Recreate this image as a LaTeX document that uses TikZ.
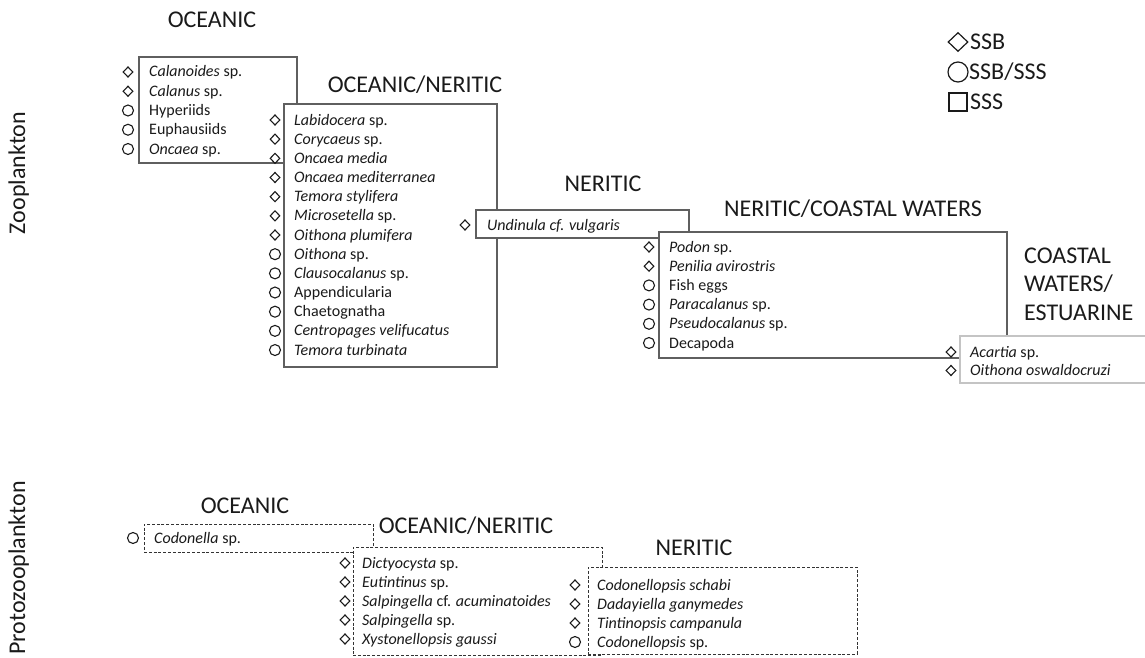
\documentclass[tikz,border=0pt]{standalone}
\usepackage{fontspec}
\setmainfont{Carlito}
\usetikzlibrary{shapes.geometric}
\definecolor{boxgray}{HTML}{5F5F5F}
\definecolor{lightbox}{HTML}{C4C4C4}
\definecolor{dashgray}{HTML}{333333}
\definecolor{txt}{HTML}{1A1A1A}
\begin{document}
\begin{tikzpicture}[x=1pt,y=-1pt,
  box/.style={draw=boxgray, line width=1.2pt, fill=white, anchor=north west, inner sep=0pt, outer sep=0pt},
  lbox/.style={box, draw=lightbox},
  dbox/.style={box, draw=dashgray, line width=1pt, dash pattern=on 3pt off 1.8pt},
  symd/.style={draw=txt, line width=1.1pt, diamond, minimum width=10pt, minimum height=10.5pt, inner sep=0pt},
  symc/.style={draw=txt, line width=1.1pt, circle, minimum size=11pt, inner sep=0pt},
  item/.style={anchor=base west, inner sep=0pt, font=\fontsize{16}{19}\selectfont, text=txt},
  ttl/.style={anchor=base, inner sep=0pt, font=\fontsize{24}{28}\selectfont, text=txt},
  side/.style={anchor=base, inner sep=0pt, rotate=90, font=\fontsize{24}{28}\selectfont, text=txt},
]
\useasboundingbox (0,0) rectangle (1145,658);

% ---------- boxes (zooplankton) ----------
\node[box, minimum width=158pt, minimum height=106pt] (b1) at (139,57) {};
\node[box, minimum width=213pt, minimum height=263pt] (b2) at (284,104) {};
\node[box, minimum width=213pt, minimum height=28pt] (b3) at (476,210) {};
\node[box, minimum width=348pt, minimum height=126pt] (b4) at (659,232) {};
\node[lbox, minimum width=200pt, minimum height=47pt] (b5) at (960,336) {};

% ---------- boxes (protozooplankton) ----------
\node[dbox, minimum width=229pt, minimum height=28pt] (p1) at (144,524) {};
\node[dbox, minimum width=249pt, minimum height=108pt] (p2) at (353,547) {};
\node[dbox, minimum width=269pt, minimum height=87pt] (p3) at (588,567) {};

% ---------- side labels ----------
\node[side] (zoo) at (25,173) {Zooplankton};
\node[side] (proto) at (25,568) {Protozooplankton};

% ---------- titles ----------
\node[ttl] (t1) at (212,27.7) {OCEANIC};
\node[ttl] (t2) at (415,92.7) {OCEANIC/NERITIC};
\node[ttl] (t3) at (603,191.2) {NERITIC};
\node[ttl] (t4) at (853,216.2) {NERITIC/COASTAL WATERS};
\node[anchor=north west, inner sep=0pt, align=left, font=\fontsize{24}{28.5}\selectfont, text=txt] (t5) at (1024,247.5) {COASTAL\\WATERS/\\ESTUARINE};
\node[ttl] (pt1) at (245,513.7) {OCEANIC};
\node[ttl] (pt2) at (466,533.7) {OCEANIC/NERITIC};
\node[ttl] (pt3) at (694,555.7) {NERITIC};

% ---------- legend ----------
\node[draw=txt, line width=1.2pt, diamond, minimum width=20pt, minimum height=19pt, inner sep=0pt] (lg1) at (958,42) {};
\node[draw=txt, line width=1.2pt, circle, minimum size=20pt, inner sep=0pt] (lg2) at (958,72) {};
\node[draw=txt, line width=1.2pt, rectangle, minimum size=18pt, inner sep=0pt] (lg3) at (958,102) {};
\node[anchor=base west, inner sep=0pt, font=\fontsize{24}{28}\selectfont, text=txt] (lgt1) at (970,49.7) {SSB};
\node[anchor=base west, inner sep=0pt, font=\fontsize{24}{28}\selectfont, text=txt] (lgt2) at (969,79.7) {SSB/SSS};
\node[anchor=base west, inner sep=0pt, font=\fontsize{24}{28}\selectfont, text=txt] (lgt3) at (970,109.7) {SSS};

% ---------- items ----------
\foreach \s/\t [count=\i] in {d/{\textit{Calanoides} sp.}, d/{\textit{Calanus} sp.}, c/{Hyperiids}, c/{Euphausiids}, c/{\textit{Oncaea} sp.}}{
  \node[sym\s] (b1s\i) at (128,{72+19.25*(\i-1)}) {};
  \node[item] (b1t\i) at (149,{77+19.25*(\i-1)}) {\t};
}
\foreach \s/\t [count=\i] in {d/{\textit{Labidocera} sp.}, d/{\textit{Corycaeus} sp.}, d/{\textit{Oncaea media}}, d/{\textit{Oncaea mediterranea}}, d/{\textit{Temora stylifera}}, d/{\textit{Microsetella} sp.}, d/{\textit{Oithona plumifera}}, c/{\textit{Oithona} sp.}, c/{\textit{Clausocalanus} sp.}, c/{Appendicularia}, c/{Chaetognatha}, c/{\textit{Centropages velifucatus}}, c/{\textit{Temora turbinata}}}{
  \node[sym\s] (b2s\i) at (275,{120+19.17*(\i-1)}) {};
  \node[item] (b2t\i) at (294,{125+19.17*(\i-1)}) {\t};
}
\node[symd] (b3s1) at (465,225) {};
\node[item] (b3t1) at (487,230) {\textit{Undinula cf. vulgaris}};
\foreach \s/\t [count=\i] in {d/{\textit{Podon} sp.}, d/{\textit{Penilia avirostris}}, c/{Fish eggs}, c/{\textit{Paracalanus} sp.}, c/{\textit{Pseudocalanus} sp.}, c/{Decapoda}}{
  \node[sym\s] (b4s\i) at (649,{247+19.2*(\i-1)}) {};
  \node[item] (b4t\i) at (669,{252+19.2*(\i-1)}) {\t};
}
\foreach \s/\t [count=\i] in {d/{\textit{Acartia} sp.}, d/{\textit{Oithona oswaldocruzi}}}{
  \node[sym\s] (b5s\i) at (951,{352+18.5*(\i-1)}) {};
  \node[item] (b5t\i) at (970,{357+18.5*(\i-1)}) {\t};
}
\node[symc] (p1s1) at (133,538) {};
\node[item] (p1t1) at (154,543) {\textit{Codonella} sp.};
\foreach \s/\t [count=\i] in {d/{\textit{Dictyocysta} sp.}, d/{\textit{Eutintinus} sp.}, d/{\textit{Salpingella} cf. \textit{acuminatoides}}, d/{\textit{Salpingella} sp.}, d/{\textit{Xystonellopsis gaussi}}}{
  \node[sym\s] (p2s\i) at (345,{563+19*(\i-1)}) {};
  \node[item] (p2t\i) at (362,{568+19*(\i-1)}) {\t};
}
\foreach \s/\t [count=\i] in {d/{\textit{Codonellopsis schabi}}, d/{\textit{Dadayiella ganymedes}}, d/{\textit{Tintinopsis campanula}}, c/{\textit{Codonellopsis} sp.}}{
  \node[sym\s] (p3s\i) at (575,{585+19*(\i-1)}) {};
  \node[item] (p3t\i) at (597,{590+19*(\i-1)}) {\t};
}
\end{tikzpicture}
\end{document}
